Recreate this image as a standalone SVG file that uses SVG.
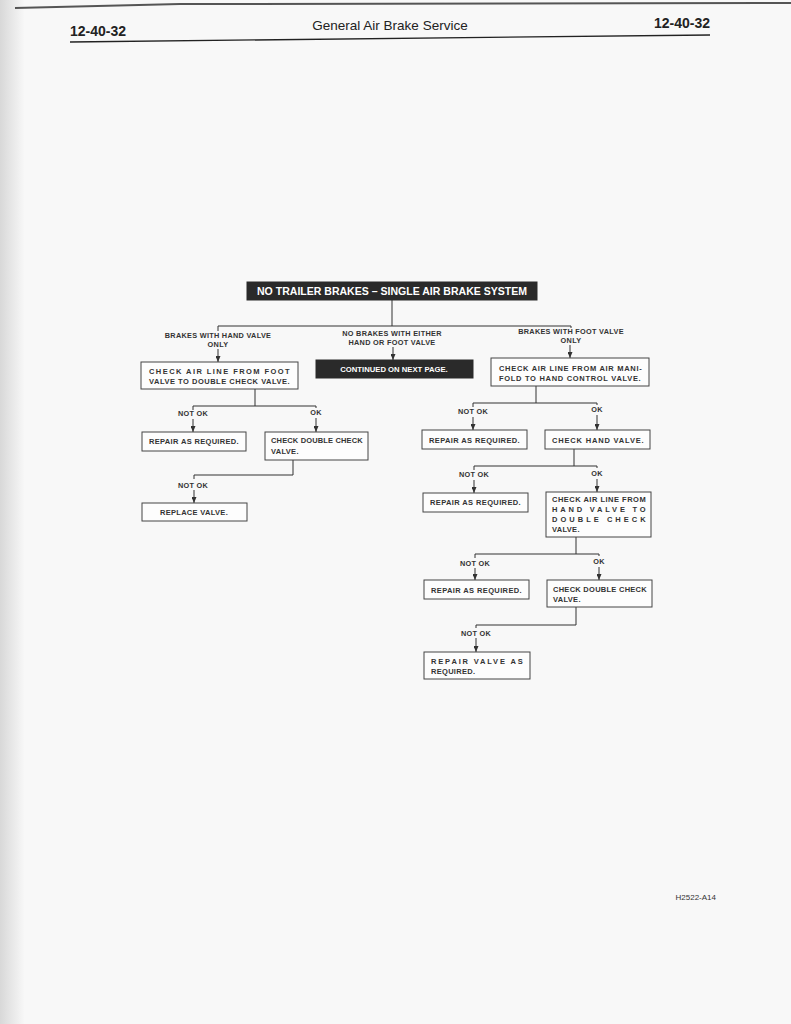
<svg xmlns="http://www.w3.org/2000/svg" width="791" height="1024" viewBox="0 0 791 1024">
<defs>
<marker id="arr" markerWidth="6" markerHeight="5" refX="6" refY="2.5" orient="auto" markerUnits="userSpaceOnUse" viewBox="0 0 6 5">
<path d="M0,0 L6,2.5 L0,5 Z" fill="#333"/>
</marker>
<linearGradient id="edge" x1="0" x2="1" y1="0" y2="0">
<stop offset="0" stop-color="#d8d8d8"/>
<stop offset="1" stop-color="#f7f7f7"/>
</linearGradient>
<style>
.ln{stroke:#333;stroke-width:1;fill:none}
.ar{stroke:#333;stroke-width:1;fill:none;marker-end:url(#arr)}
.bx{fill:#fdfdfd;stroke:#444;stroke-width:1}
.bk{fill:#2a2a2a;stroke:#2a2a2a}
.t{font-family:"Liberation Sans",Arial,sans-serif;font-size:7.5px;font-weight:bold;fill:#333;letter-spacing:0.3px}
.lb{font-family:"Liberation Sans",Arial,sans-serif;font-size:7.3px;font-weight:bold;fill:#333;text-anchor:middle;letter-spacing:0.3px}
.w{font-family:"Liberation Sans",Arial,sans-serif;font-weight:bold;fill:#fff;text-anchor:middle}
.hd{font-family:"Liberation Sans",Arial,sans-serif;fill:#222}
</style>
</defs>
<rect width="791" height="1024" fill="#f8f8f8"/>
<rect x="0" y="0" width="24" height="1024" fill="url(#edge)"/>
<path d="M15,8 L180,4 L791,3" stroke="#555" stroke-width="2" fill="none"/>

<g id="header">
<text class="hd" x="70" y="36" font-size="14" font-weight="bold">12-40-32</text>
<text class="hd" x="390" y="30" font-size="13.5" text-anchor="middle">General Air Brake Service</text>
<text class="hd" x="710" y="28" font-size="14" font-weight="bold" text-anchor="end">12-40-32</text>
<line x1="70" y1="42" x2="710" y2="35" stroke="#222" stroke-width="1.3"/>
</g>

<g id="connectors">
<polyline class="ln" points="392,300 392,326"/>
<polyline class="ln" points="218,331 218,326 571,326 571,328"/>
<line class="ar" x1="218" y1="349" x2="218" y2="362"/>
<line class="ar" x1="393" y1="347" x2="393" y2="360"/>
<line class="ar" x1="570" y1="345" x2="570" y2="358"/>

<polyline class="ln" points="255,389 255,406"/>
<polyline class="ln" points="193,410 193,406 316,406 316,408"/>
<line class="ar" x1="193" y1="419" x2="193" y2="432"/>
<line class="ar" x1="316" y1="418" x2="316" y2="432"/>
<polyline class="ln" points="293,460 293,475 194,475 194,479"/>
<line class="ar" x1="194" y1="490" x2="194" y2="503"/>

<polyline class="ln" points="536,386 536,403"/>
<polyline class="ln" points="473,407 473,403 597,403 597,405"/>
<line class="ar" x1="473" y1="417" x2="473" y2="430"/>
<line class="ar" x1="597" y1="415" x2="597" y2="430"/>
<polyline class="ln" points="574,449 574,466"/>
<polyline class="ln" points="474,470 474,466 597,466 597,468"/>
<line class="ar" x1="474" y1="480" x2="474" y2="493"/>
<line class="ar" x1="597" y1="479" x2="597" y2="492"/>
<polyline class="ln" points="576,537 576,554"/>
<polyline class="ln" points="475,558 475,554 599,554 599,556"/>
<line class="ar" x1="475" y1="568" x2="475" y2="580"/>
<line class="ar" x1="599" y1="567" x2="599" y2="580"/>
<polyline class="ln" points="576,607 576,625 476,625 476,628"/>
<line class="ar" x1="476" y1="638" x2="476" y2="652"/>
</g>

<g id="title">
<rect class="bk" x="247" y="282" width="290" height="18"/>
<text class="w" x="392" y="295" font-size="11" textLength="270" lengthAdjust="spacingAndGlyphs">NO TRAILER BRAKES – SINGLE AIR BRAKE SYSTEM</text>
</g>

<g id="branch-labels">
<text class="lb" x="218" y="338">BRAKES WITH HAND VALVE</text>
<text class="lb" x="218" y="347">ONLY</text>
<text class="lb" x="392" y="336">NO BRAKES WITH EITHER</text>
<text class="lb" x="392" y="345">HAND OR FOOT VALVE</text>
<text class="lb" x="571" y="334">BRAKES WITH FOOT VALVE</text>
<text class="lb" x="571" y="343">ONLY</text>
</g>

<g id="n-check-foot">
<rect class="bx" x="141" y="362" width="157" height="27"/>
<text class="t" x="149" y="374" textLength="141" lengthAdjust="spacing">CHECK AIR LINE FROM FOOT</text>
<text class="t" x="149" y="384" textLength="141" lengthAdjust="spacing">VALVE TO DOUBLE CHECK VALVE.</text>
</g>

<g id="n-continued">
<rect class="bk" x="316" y="360" width="157" height="18"/>
<text class="w" x="394" y="372" font-size="7.7">CONTINUED ON NEXT PAGE.</text>
</g>

<g id="n-check-manifold">
<rect class="bx" x="491" y="358" width="158" height="28"/>
<text class="t" x="499" y="371" textLength="143" lengthAdjust="spacing">CHECK AIR LINE FROM AIR MANI-</text>
<text class="t" x="499" y="381" textLength="142" lengthAdjust="spacing">FOLD TO HAND CONTROL VALVE.</text>
</g>

<g id="lbl-left1">
<text class="lb" x="193" y="416">NOT OK</text>
<text class="lb" x="316" y="415">OK</text>
</g>
<g id="n-repair-l1">
<rect class="bx" x="142" y="432" width="104" height="19"/>
<text class="t" x="149" y="444" textLength="90" lengthAdjust="spacing">REPAIR AS REQUIRED.</text>
</g>
<g id="n-dcv-l">
<rect class="bx" x="265" y="432" width="103" height="28"/>
<text class="t" x="271" y="443" textLength="92" lengthAdjust="spacing">CHECK DOUBLE CHECK</text>
<text class="t" x="271" y="454">VALVE.</text>
</g>
<g id="lbl-left2">
<text class="lb" x="193" y="488">NOT OK</text>
</g>
<g id="n-replace">
<rect class="bx" x="142" y="503" width="105" height="18"/>
<text class="t" x="194" y="515" text-anchor="middle">REPLACE VALVE.</text>
</g>

<g id="lbl-right1">
<text class="lb" x="473" y="414">NOT OK</text>
<text class="lb" x="597" y="412">OK</text>
</g>
<g id="n-repair-r1">
<rect class="bx" x="422" y="430" width="105" height="19"/>
<text class="t" x="429" y="443" textLength="91" lengthAdjust="spacing">REPAIR AS REQUIRED.</text>
</g>
<g id="n-hand">
<rect class="bx" x="545" y="430" width="105" height="19"/>
<text class="t" x="552" y="443" textLength="92" lengthAdjust="spacing">CHECK HAND VALVE.</text>
</g>

<g id="lbl-right2">
<text class="lb" x="474" y="477">NOT OK</text>
<text class="lb" x="597" y="476">OK</text>
</g>
<g id="n-repair-r2">
<rect class="bx" x="423" y="493" width="105" height="19"/>
<text class="t" x="430" y="505" textLength="91" lengthAdjust="spacing">REPAIR AS REQUIRED.</text>
</g>
<g id="n-airline-hand">
<rect class="bx" x="546" y="492" width="105" height="45"/>
<text class="t" x="552" y="502" textLength="94" lengthAdjust="spacing">CHECK AIR LINE FROM</text>
<text class="t" x="552" y="512" textLength="94" lengthAdjust="spacing">HAND VALVE TO</text>
<text class="t" x="552" y="522" textLength="94" lengthAdjust="spacing">DOUBLE CHECK</text>
<text class="t" x="552" y="532">VALVE.</text>
</g>

<g id="lbl-right3">
<text class="lb" x="475" y="566">NOT OK</text>
<text class="lb" x="599" y="564">OK</text>
</g>
<g id="n-repair-r3">
<rect class="bx" x="424" y="580" width="105" height="19"/>
<text class="t" x="431" y="593" textLength="91" lengthAdjust="spacing">REPAIR AS REQUIRED.</text>
</g>
<g id="n-dcv-r">
<rect class="bx" x="547" y="580" width="105" height="27"/>
<text class="t" x="553" y="592" textLength="94" lengthAdjust="spacing">CHECK DOUBLE CHECK</text>
<text class="t" x="553" y="602">VALVE.</text>
</g>

<g id="lbl-right4">
<text class="lb" x="476" y="636">NOT OK</text>
</g>
<g id="n-repair-valve">
<rect class="bx" x="424" y="652" width="106" height="27"/>
<text class="t" x="431" y="664" textLength="92" lengthAdjust="spacing">REPAIR VALVE AS</text>
<text class="t" x="431" y="674">REQUIRED.</text>
</g>

<text x="716" y="900" font-family="Liberation Sans, Arial, sans-serif" font-size="8" fill="#333" text-anchor="end">H2522-A14</text>
</svg>
